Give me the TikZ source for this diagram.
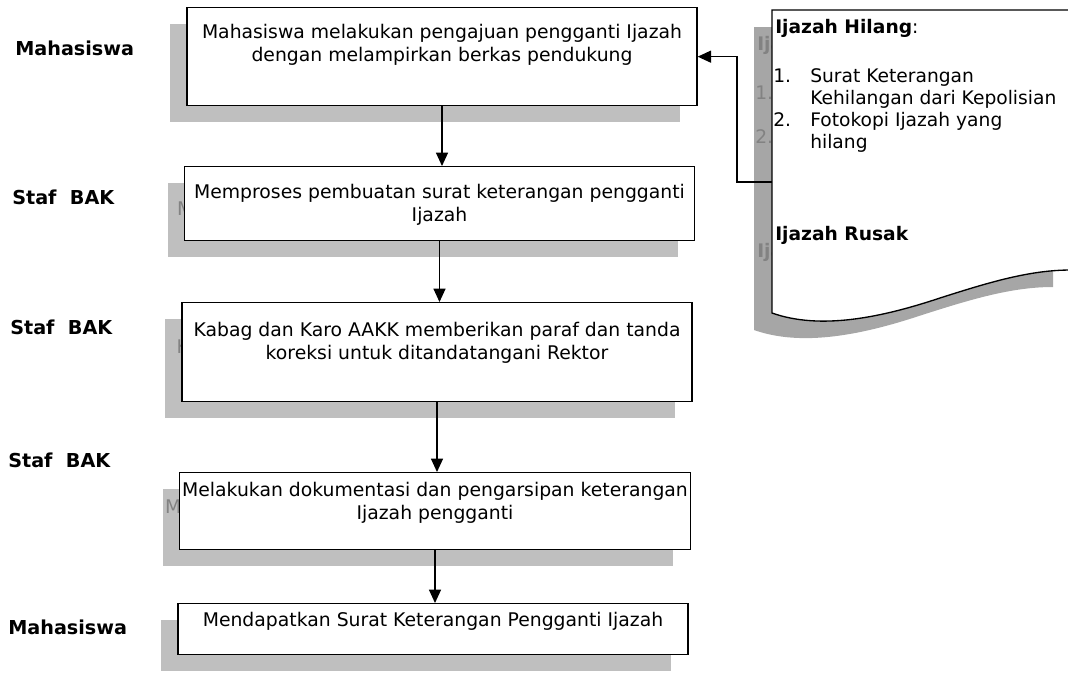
\documentclass[tikz,border=0pt]{standalone}
\usepackage{fontspec}
\setmainfont{DejaVu Sans}
\usetikzlibrary{arrows.meta,calc,positioning}

\definecolor{boxshade}{RGB}{191,191,191}
\definecolor{docshade}{RGB}{166,166,166}
\definecolor{ghost}{RGB}{130,130,130}

% text lines of the requirement sheet, #1 = prefix of the node names
\newcommand{\ijazahnotes}[1]{
  \node[note] (#1hilang) at (775,33) {\textbf{Ijazah Hilang}:};
  \node[note] (#1numa) at (773,82) {1.};
  \node[note] (#1itema) at (810,82) {Surat Keterangan};
  \node[note] (#1itemb) at (810,104) {Kehilangan dari Kepolisian};
  \node[note] (#1numb) at (773,126) {2.};
  \node[note] (#1itemc) at (810,126) {Fotokopi Ijazah yang};
  \node[note] (#1itemd) at (810,148) {hilang};
  \node[note] (#1rusak) at (775,240) {\textbf{Ijazah Rusak}};
}

\begin{document}
\begin{tikzpicture}[x=0.75pt, y=-0.75pt,
  stepbox/.style={draw=black, line width=1pt, fill=white, anchor=north,
    minimum width=382.5pt, align=center, inner xsep=2pt, inner ysep=0pt,
    font=\fontsize{14.1}{17}\selectfont},
  shadebox/.style={fill=boxshade, text=ghost, anchor=north,
    minimum width=382.5pt, align=center, inner xsep=2pt, inner ysep=0pt,
    font=\fontsize{14.1}{17}\selectfont},
  role/.style={anchor=west, inner sep=0pt, font=\fontsize{14.4}{17}\selectfont\bfseries},
  note/.style={anchor=base west, inner sep=0pt, font=\fontsize{14}{17}\selectfont},
  flow/.style={line width=0.9pt, -{Triangle[width=9pt,length=10pt]}}]

\useasboundingbox (0,0) rectangle (1068,675);

% Top edges of the steps
\coordinate (top1) at (442,7);
\coordinate (top2) at (439.5,166);
\coordinate (top3) at (437,302);
\coordinate (top4) at (435,472);
\coordinate (top5) at (433,603);

% Steps with their shadows
\node[shadebox, text height=40pt, text depth=33.5pt] at ($(top1)+(-17,17)$)
  {Mahasiswa melakukan pengajuan pengganti Ijazah\\dengan melampirkan berkas pendukung};
\node[stepbox, text height=40pt, text depth=33.5pt] (s1) at (top1)
  {Mahasiswa melakukan pengajuan pengganti Ijazah\\dengan melampirkan berkas pendukung};

\node[shadebox, text height=40.8pt, text depth=14.7pt] at ($(top2)+(-17,17)$)
  {Memproses pembuatan surat keterangan pengganti\\Ijazah};
\node[stepbox, text height=40.8pt, text depth=14.7pt] (s2) at (top2)
  {Memproses pembuatan surat keterangan pengganti\\Ijazah};

\node[shadebox, text height=42.3pt, text depth=32pt] at ($(top3)+(-17,17)$)
  {Kabag dan Karo AAKK memberikan paraf dan tanda\\koreksi untuk ditandatangani Rektor};
\node[stepbox, text height=42.3pt, text depth=32pt] (s3) at (top3)
  {Kabag dan Karo AAKK memberikan paraf dan tanda\\koreksi untuk ditandatangani Rektor};

\node[shadebox, text height=34.8pt, text depth=23pt] at ($(top4)+(-17,17)$)
  {Melakukan dokumentasi dan pengarsipan keterangan\\Ijazah pengganti};
\node[stepbox, text height=34.8pt, text depth=23pt] (s4) at (top4)
  {Melakukan dokumentasi dan pengarsipan keterangan\\Ijazah pengganti};

\node[shadebox, text height=17.4pt, text depth=20.8pt] at ($(top5)+(-17,17)$)
  {Mendapatkan Surat Keterangan Pengganti Ijazah};
\node[stepbox, text height=17.4pt, text depth=20.8pt] (s5) at (top5)
  {Mendapatkan Surat Keterangan Pengganti Ijazah};

% Arrows between steps
\draw[flow] (s1.south) -- (s1.south |- s2.north);
\draw[flow] (s2.south) -- (s2.south |- s3.north);
\draw[flow] (s3.south) -- (s3.south |- s4.north);
\draw[flow] (s4.south) -- (s4.south |- s5.north);

% Who does it
\node[role] (r1) at (15,48) {Mahasiswa};
\node[role] (r2) at (12,197) {Staf\ \ BAK};
\node[role] (r3) at (10,327) {Staf\ \ BAK};
\node[role] (r4) at (8,460) {Staf\ \ BAK};
\node[role] (r5) at (8,627) {Mahasiswa};

% Requirement sheet (document shape)
\begin{scope}[shift={(-18,17)}]
  \fill[docshade] (772,10) -- (1071,10) -- (1071,270)
    .. controls (1030,270) and (990,282) .. (940,298)
    .. controls (880,318) and (820,330) .. (772,313) -- cycle;
  \begin{scope}[text=ghost]
    \ijazahnotes{g}
  \end{scope}
\end{scope}
\draw[fill=white, line width=1pt] (772,10) -- (1071,10) -- (1071,270)
  .. controls (1030,270) and (990,282) .. (940,298)
  .. controls (880,318) and (820,330) .. (772,313) -- cycle;
\ijazahnotes{n}

% Back to the first step
\coordinate (docin) at (772,182);
\draw[flow] (docin) -- ++(-35,0) |- (s1.east);

\end{tikzpicture}
\end{document}
